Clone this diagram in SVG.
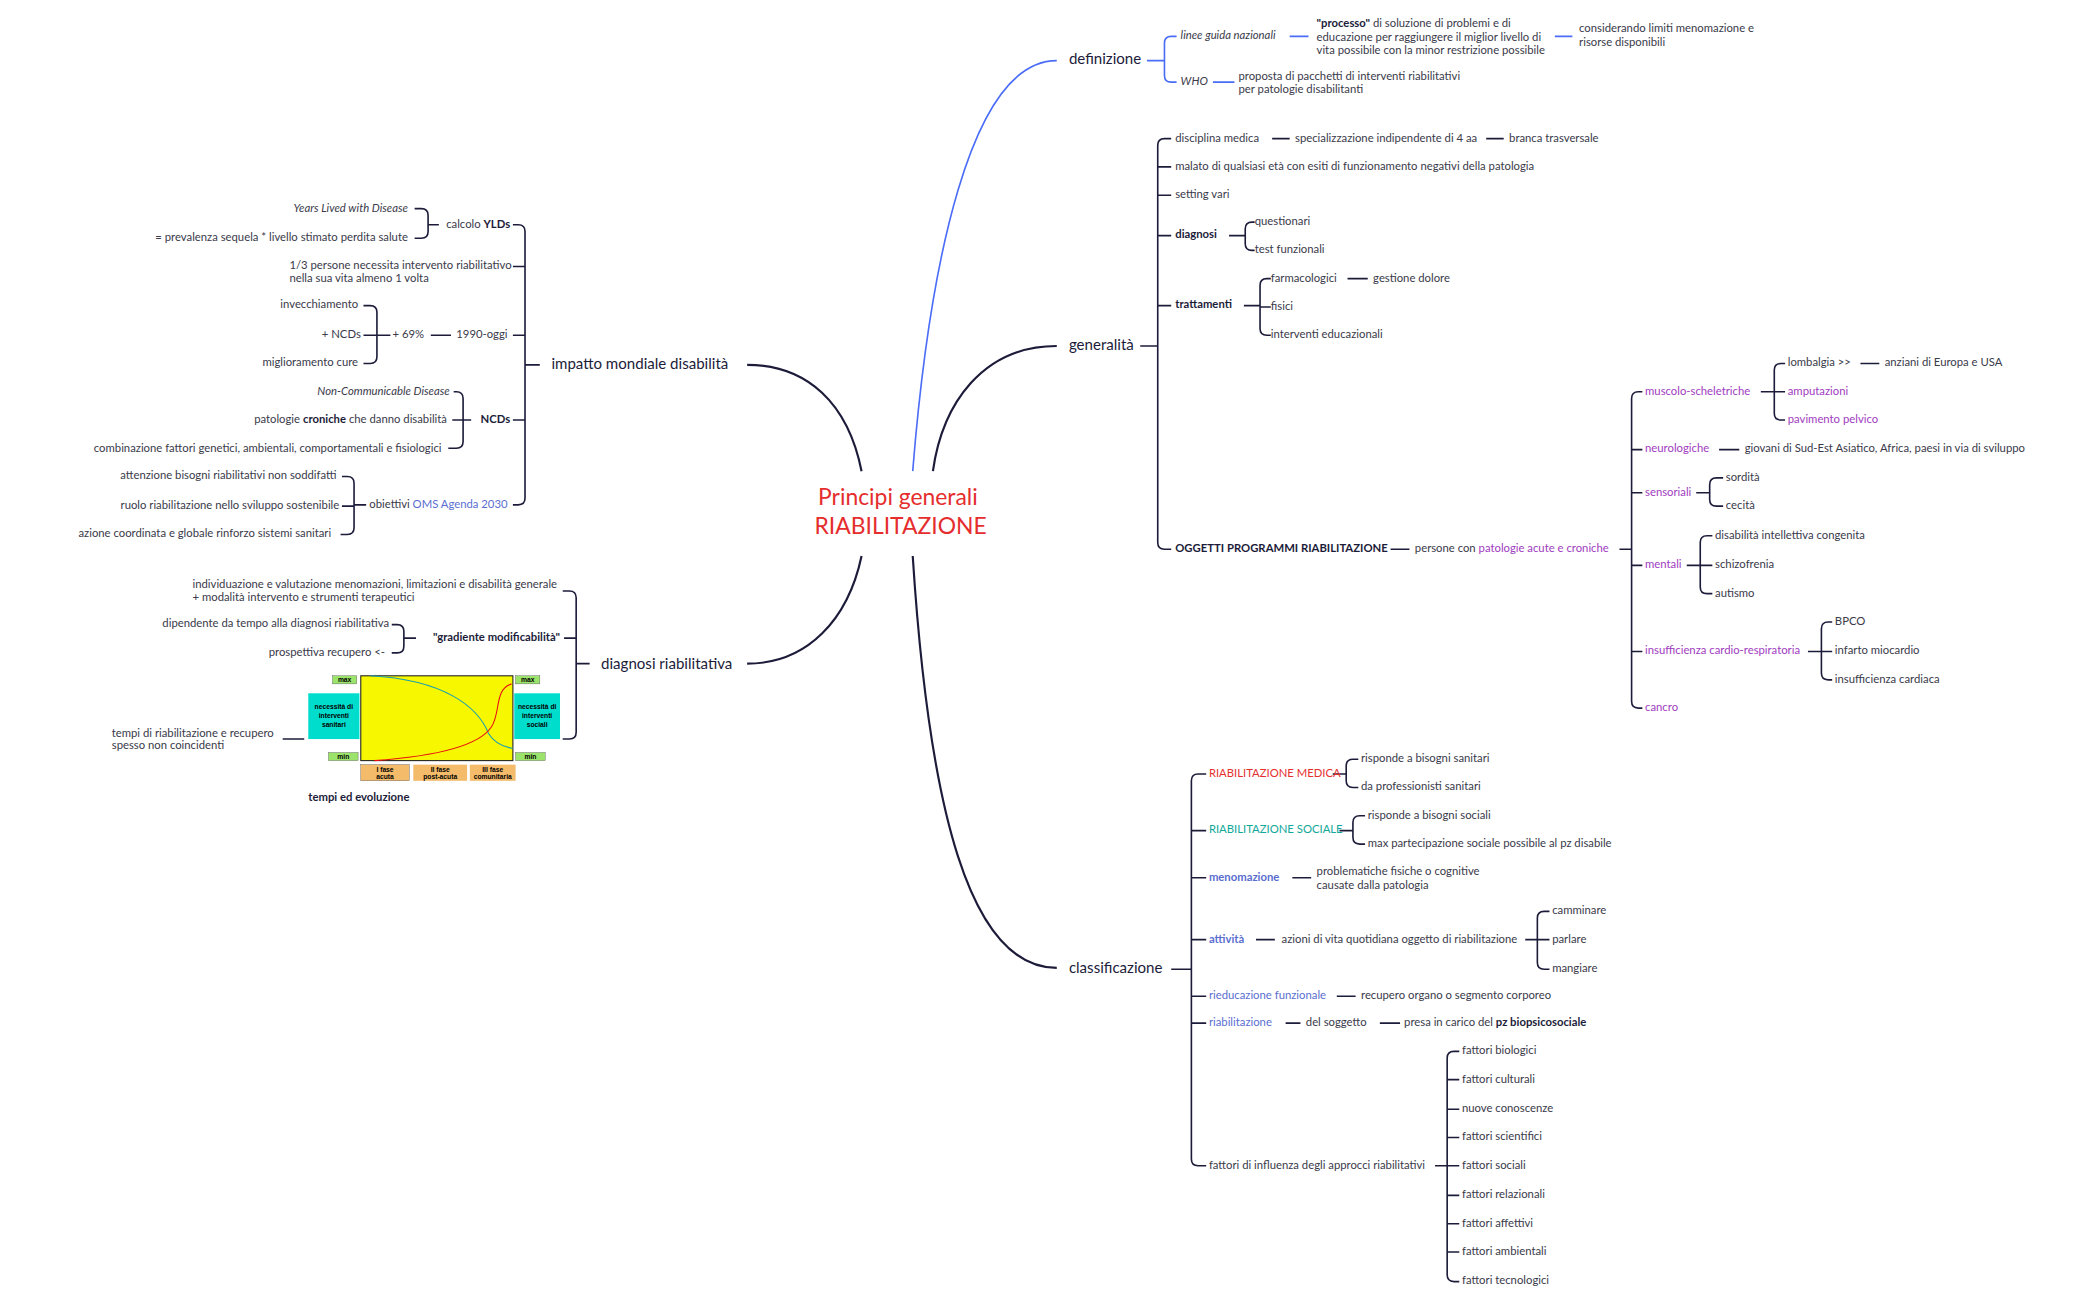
<svg xmlns="http://www.w3.org/2000/svg" width="2100" height="1299" viewBox="0 0 2100 1299">
<style>
text{font-family:Lato,"Open Sans",sans-serif;font-size:8.4px;fill:#3a3a4a;dominant-baseline:middle}
.m{font-size:11.2px;fill:#1c1c3a}
.t{font-size:17px;fill:#e52d2d}
.b{font-weight:bold;fill:#1c1c3a}
.i{font-style:italic}
.p{fill:#a03cc0}
.bl{fill:#5a6ed0}
.r{fill:#e53030}
.g{fill:#10a89a}
.e{text-anchor:end}
.n{fill:none;stroke:#1c1c3a;stroke-width:1.2}
.nb{fill:none;stroke:#4a6cf7;stroke-width:1.2}
.np{fill:none;stroke:#1c1c3a;stroke-width:1.6}
.c{font-size:5px;font-family:"Liberation Sans",sans-serif;fill:#000;text-anchor:middle;font-weight:bold}
</style>
<rect width="2100" height="1299" fill="#fff"/>
<g transform="scale(1.3462)">
<g id="connectors">
<path class="nb" d="M678 350 C690 200 720 45 785 45" stroke-width="1.8"/>
<path class="np" d="M693 350 C700 300 730 257 785 257" stroke-width="1.8"/>
<path class="np" d="M678 413 C690 600 720 719 785 719" stroke-width="1.8"/>
<path class="np" d="M640 350 C630 300 600 271 555 271" stroke-width="1.8"/>
<path class="np" d="M640 413 C630 460 600 493 555 493" stroke-width="1.8"/>
<path class="nb" d="M852 45H865M870 27Q865 27 865 32V56Q865 61 870 61H874M870 27H874M958 27H972M1155 27H1168M901 61H917"/>
<path class="n" d="M847 257H860M865 103Q860 103 860 108V403Q860 408 865 408H870M860 124Q860 124 865 124H870M860 145H870M860 175H870M860 227H870M865 103H870M945 103H958M1104 103H1117"/>
<path class="n" d="M913 175H925M930 165Q925 165 925 170V181Q925 186 930 186H932M930 165H932"/>
<path class="n" d="M924 227H936M941 207Q936 207 936 212V244Q936 249 941 249H944M936 228H944M941 207H944M1001 207H1016"/>
<path class="n" d="M1033 408H1047M1203 408H1212M1217 291Q1212 291 1212 296V521Q1212 526 1217 526H1220M1212 334H1220M1212 366H1220M1212 420H1220M1212 484H1220M1217 291H1220"/>
<path class="n" d="M1308 291H1318M1323 270Q1318 270 1318 275V307Q1318 312 1323 312H1326M1318 291H1326M1323 270H1326M1382 270H1396M1277 334H1292"/>
<path class="n" d="M1260 366H1270M1275 355Q1270 355 1270 360V371Q1270 376 1275 376H1280M1275 355H1280"/>
<path class="n" d="M1253 420H1263M1268 398Q1263 398 1263 403V436Q1263 441 1268 441H1272M1263 420H1272M1268 398H1272"/>
<path class="n" d="M1343 484H1353M1358 462Q1353 462 1353 467V500Q1353 505 1358 505H1361M1353 484H1361M1358 462H1361"/>
<path class="n" d="M870 720H885M890 575Q885 575 885 580V861Q885 866 890 866H896M885 617H896M885 652H896M885 698H896M885 740H896M885 760H896M890 575H896"/>
<path class="n" d="M990 575H1000M1005 564Q1000 564 1000 569V580Q1000 585 1005 585H1009M1005 564H1009"/>
<path class="n" d="M995 617H1005M1010 606Q1005 606 1005 611V622Q1005 627 1010 627H1014M1010 606H1014"/>
<path class="n" d="M960 652H974M933 698H947M993 740H1007M955 760H966M1025 760H1040"/>
<path class="n" d="M1133 698H1142M1147 677Q1142 677 1142 682V715Q1142 720 1147 720H1151M1142 698H1151M1147 677H1151"/>
<path class="n" d="M1066 866H1075M1080 781Q1075 781 1075 786V947Q1075 952 1080 952H1084M1075 802H1084M1075 824H1084M1075 845H1084M1075 866H1084M1075 888H1084M1075 909H1084M1075 930H1084M1080 781H1084"/>
<path class="n" d="M401 271H390M385 167Q390 167 390 172V370Q390 375 385 375H381M390 198H381M390 249H381M390 312H381M385 167H381"/>
<path class="n" d="M326 167H318M313 155Q318 155 318 160V172Q318 177 313 177H308M313 155H308"/>
<path class="n" d="M335 249H320M290 249H280M275 227Q280 227 280 232V265Q280 270 275 270H270M280 249H270M275 227H270"/>
<path class="n" d="M350 312H344M339 291Q344 291 344 296V328Q344 333 339 333H333M344 312H336M339 291H337"/>
<path class="n" d="M272 375H263M258 354Q263 354 263 359V392Q263 397 258 397H253M263 376H254M258 354H254"/>
<path class="n" d="M438 493H428M423 439Q428 439 428 444V544Q428 549 423 549H418M428 474H419M423 439H418"/>
<path class="n" d="M309 474H300M295 464Q300 464 300 469V480Q300 485 295 485H291M295 464H291M210 549H226"/>
</g>
<g id="center"><text class="t" x="667" y="371" text-anchor="middle">Principi generali</text><text class="t" x="669" y="392" text-anchor="middle">RIABILITAZIONE</text></g>
<g id="definizione"><text class="m" x="794" y="45">definizione</text>
<text class="i" x="877" y="27">linee guida nazionali</text><text class="i" x="877" y="61">WHO</text>
<text x="978" y="18"><tspan class="b">"processo"</tspan> di soluzione di problemi e di</text><text x="978" y="28">educazione per raggiungere il miglior livello di</text><text x="978" y="38">vita possibile con la minor restrizione possibile</text>
<text x="1173" y="22">considerando limiti menomazione e</text><text x="1173" y="32">risorse disponibili</text>
<text x="920" y="57">proposta di pacchetti di interventi riabilitativi</text><text x="920" y="67">per patologie disabilitanti</text></g>
<g id="generalita"><text class="m" x="794" y="257">generalità</text>
<text x="873" y="103">disciplina medica</text><text x="962" y="103">specializzazione indipendente di 4 aa</text><text x="1121" y="103">branca trasversale</text>
<text x="873" y="124">malato di qualsiasi età con esiti di funzionamento negativi della patologia</text>
<text x="873" y="145">setting vari</text>
<text class="b" x="873" y="175">diagnosi</text><text x="932" y="165">questionari</text><text x="932" y="186">test funzionali</text>
<text class="b" x="873" y="227">trattamenti</text><text x="944" y="207">farmacologici</text><text x="1020" y="207">gestione dolore</text><text x="944" y="228">fisici</text><text x="944" y="249">interventi educazionali</text>
<text class="b" x="873" y="408">OGGETTI PROGRAMMI RIABILITAZIONE</text><text x="1051" y="408">persone con <tspan class="p">patologie acute e croniche</tspan></text>
<text class="p" x="1222" y="291">muscolo-scheletriche</text><text x="1328" y="270">lombalgia &gt;&gt;</text><text x="1400" y="270">anziani di Europa e USA</text><text class="p" x="1328" y="291">amputazioni</text><text class="p" x="1328" y="312">pavimento pelvico</text>
<text class="p" x="1222" y="334">neurologiche</text><text x="1296" y="334">giovani di Sud-Est Asiatico, Africa, paesi in via di sviluppo</text>
<text class="p" x="1222" y="366">sensoriali</text><text x="1282" y="355">sordità</text><text x="1282" y="376">cecità</text>
<text class="p" x="1222" y="420">mentali</text><text x="1274" y="398">disabilità intellettiva congenita</text><text x="1274" y="420">schizofrenia</text><text x="1274" y="441">autismo</text>
<text class="p" x="1222" y="484">insufficienza cardio-respiratoria</text><text x="1363" y="462">BPCO</text><text x="1363" y="484">infarto miocardio</text><text x="1363" y="505">insufficienza cardiaca</text>
<text class="p" x="1222" y="526">cancro</text></g>
<g id="classificazione"><text class="m" x="794" y="720">classificazione</text>
<text class="r" x="898" y="575">RIABILITAZIONE MEDICA</text><text x="1011" y="564">risponde a bisogni sanitari</text><text x="1011" y="585">da professionisti sanitari</text>
<text class="g" x="898" y="617">RIABILITAZIONE SOCIALE</text><text x="1016" y="606">risponde a bisogni sociali</text><text x="1016" y="627">max partecipazione sociale possibile al pz disabile</text>
<text class="bl" x="898" y="652" font-weight="bold">menomazione</text><text x="978" y="648">problematiche fisiche o cognitive</text><text x="978" y="658">causate dalla patologia</text>
<text class="bl" x="898" y="698" font-weight="bold">attività</text><text x="952" y="698">azioni di vita quotidiana oggetto di riabilitazione</text><text x="1153" y="677">camminare</text><text x="1153" y="698">parlare</text><text x="1153" y="720">mangiare</text>
<text class="bl" x="898" y="740">rieducazione funzionale</text><text x="1011" y="740">recupero organo o segmento corporeo</text>
<text class="bl" x="898" y="760">riabilitazione</text><text x="970" y="760">del soggetto</text><text x="1043" y="760">presa in carico del <tspan class="b">pz biopsicosociale</tspan></text>
<text x="898" y="866">fattori di influenza degli approcci riabilitativi</text>
<text x="1086" y="781">fattori biologici</text><text x="1086" y="802">fattori culturali</text><text x="1086" y="824">nuove conoscenze</text><text x="1086" y="845">fattori scientifici</text><text x="1086" y="866">fattori sociali</text><text x="1086" y="888">fattori relazionali</text><text x="1086" y="909">fattori affettivi</text><text x="1086" y="930">fattori ambientali</text><text x="1086" y="952">fattori tecnologici</text></g>
<g id="impatto"><text class="m e" x="541" y="271">impatto mondiale disabilità</text>
<text class="e" x="379" y="167">calcolo <tspan class="b">YLDs</tspan></text><text class="e i" x="303" y="155">Years Lived with Disease</text><text class="e" x="303" y="177">= prevalenza sequela * livello stimato perdita salute</text>
<text x="215" y="198">1/3 persone necessita intervento riabilitativo</text><text x="215" y="207">nella sua vita almeno 1 volta</text>
<text class="e" x="377" y="249">1990-oggi</text><text class="e" x="315" y="249">+ 69%</text><text class="e" x="266" y="227">invecchiamento</text><text class="e" x="268" y="249">+ NCDs</text><text class="e" x="266" y="270">miglioramento cure</text>
<text class="e b" x="379" y="312">NCDs</text><text class="e i" x="334" y="291">Non-Communicable Disease</text><text class="e" x="332" y="312">patologie <tspan class="b">croniche</tspan> che danno disabilità</text><text class="e" x="328" y="334">combinazione fattori genetici, ambientali, comportamentali e fisiologici</text>
<text class="e" x="377" y="375">obiettivi <tspan class="bl">OMS Agenda 2030</tspan></text><text class="e" x="250" y="354">attenzione bisogni riabilitativi non soddifatti</text><text class="e" x="252" y="376">ruolo riabilitazione nello sviluppo sostenibile</text><text class="e" x="246" y="397">azione coordinata e globale rinforzo sistemi sanitari</text></g>
<g id="diagnosi"><text class="m e" x="544" y="494">diagnosi riabilitativa</text>
<text x="143" y="435">individuazione e valutazione menomazioni, limitazioni e disabilità generale</text><text x="143" y="444">+ modalità intervento e strumenti terapeutici</text>
<text class="e b" x="416" y="474">"gradiente modificabilità"</text><text class="e" x="289" y="464">dipendente da tempo alla diagnosi riabilitativa</text><text class="e" x="286" y="485">prospettiva recupero &lt;-</text>
<text x="83" y="545">tempi di riabilitazione e recupero</text><text x="83" y="554">spesso non coincidenti</text>
<text class="b" x="229" y="593">tempi ed evoluzione</text></g>
<g id="chart">
<rect x="268" y="502" width="113" height="63" fill="#f7f700" stroke="#222" stroke-width="0.8"/>
<path d="M275 502C330 505 355 525 363 545C368 553 375 555 381 556" fill="none" stroke="#1aa0b0" stroke-width="0.8"/>
<path d="M278 565C320 562 355 555 365 540C372 530 367 512 380 508" fill="none" stroke="#e81010" stroke-width="0.8"/>
<rect x="247" y="502" width="18" height="6" fill="#9be36a" stroke="#555" stroke-width="0.3"/><text class="c" x="256" y="505.5">max</text>
<rect x="383" y="502" width="18" height="6" fill="#9be36a" stroke="#555" stroke-width="0.3"/><text class="c" x="392" y="505.5">max</text>
<rect x="244" y="559" width="22" height="6" fill="#9be36a" stroke="#555" stroke-width="0.3"/><text class="c" x="255" y="562.5">min</text>
<rect x="383" y="559" width="22" height="6" fill="#9be36a" stroke="#555" stroke-width="0.3"/><text class="c" x="394" y="562.5">min</text>
<rect x="229" y="515" width="38" height="34" fill="#00ddcc"/><text class="c" x="248" y="525">necessità di</text><text class="c" x="248" y="532">interventi</text><text class="c" x="248" y="539">sanitari</text>
<rect x="382" y="515" width="34" height="34" fill="#00ddcc"/><text class="c" x="399" y="525">necessità di</text><text class="c" x="399" y="532">interventi</text><text class="c" x="399" y="539">sociali</text>
<rect x="268" y="568" width="36" height="12" fill="#f4bb6a" stroke="#555" stroke-width="0.3"/><text class="c" x="286" y="572">I fase</text><text class="c" x="286" y="577.5">acuta</text>
<rect x="307" y="568" width="40" height="12" fill="#f4bb6a"/><text class="c" x="327" y="572">II fase</text><text class="c" x="327" y="577.5">post-acuta</text>
<rect x="349" y="568" width="34" height="12" fill="#f4bb6a"/><text class="c" x="366" y="572">III fase</text><text class="c" x="366" y="577.5">comunitaria</text>
</g>
</g>
</svg>
